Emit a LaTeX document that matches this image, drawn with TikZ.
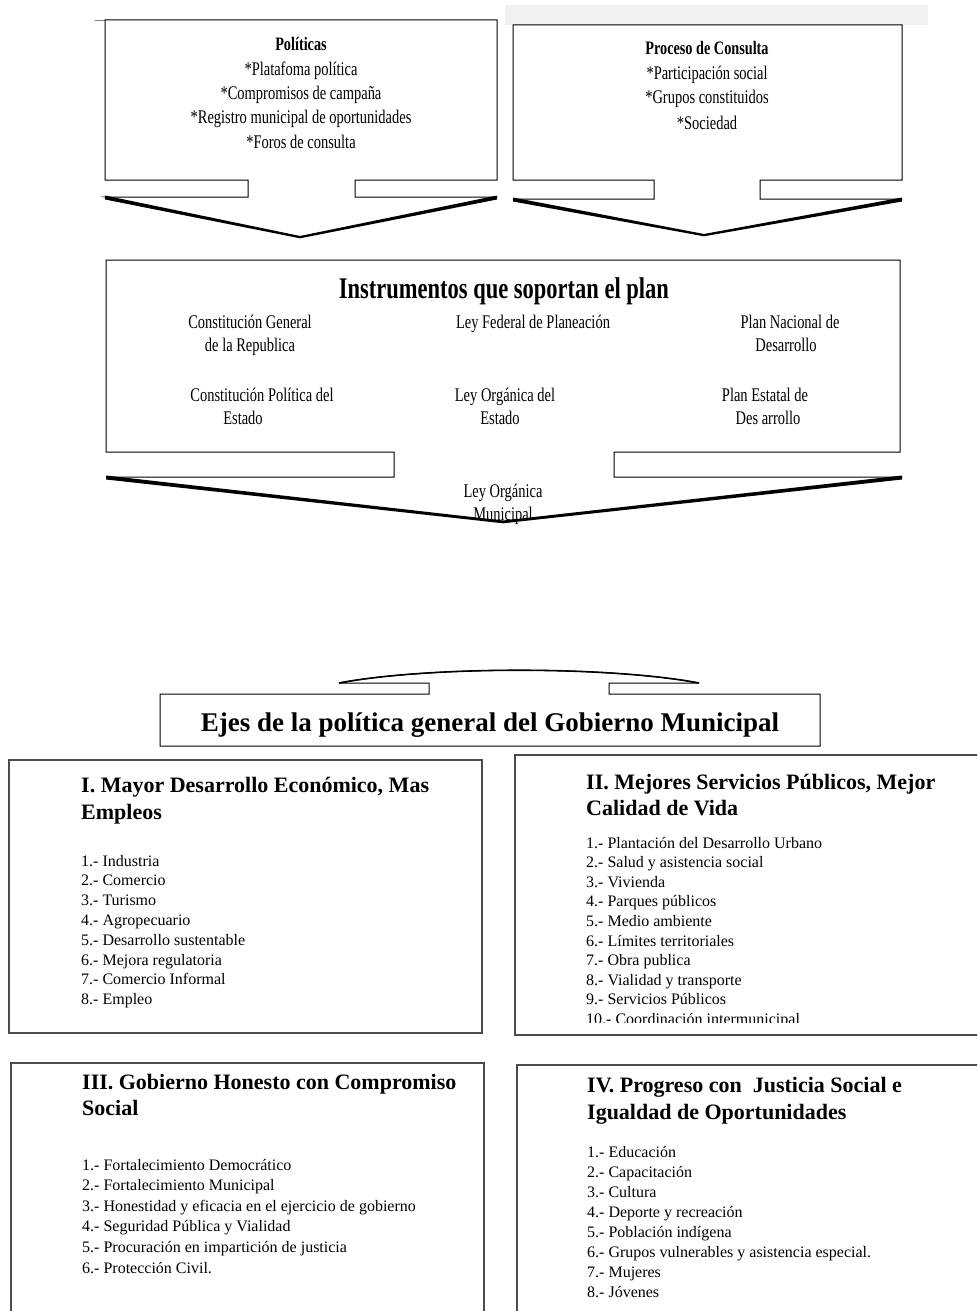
\documentclass[tikz,border=0pt]{standalone}
\usepackage{fontspec}
\setmainfont{Liberation Serif}
\newfontfamily\condfont[FakeStretch=0.85]{Liberation Serif}
\newfontfamily\narrowfont[FakeStretch=0.75]{Liberation Serif}
\tikzset{
  topt/.style={font=\narrowfont\fontsize{19.3}{22}\selectfont, inner sep=0pt, anchor=base},
  topb/.style={font=\narrowfont\bfseries\fontsize{19}{22}\selectfont, inner sep=0pt, anchor=base},
  midtitle/.style={font=\narrowfont\bfseries\fontsize{30}{33}\selectfont, inner sep=0pt, anchor=base},
  ejestitle/.style={font=\bfseries\fontsize{27}{30}\selectfont, inner sep=0pt, anchor=base},
  axtitle/.style={font=\bfseries\fontsize{22}{27}\selectfont, inner sep=0pt, anchor=base west},
  axitem/.style={font=\fontsize{16}{20}\selectfont, inner sep=0pt, anchor=base west},
  boxline/.style={draw=black, line width=1pt, line join=miter},
  wedge/.style={fill=black},
  axbox/.style={draw=black!70, line width=1.3pt},
}
\begin{document}
\begin{tikzpicture}[x=1pt,y=-1pt]
\useasboundingbox (0,0) rectangle (977,1311);
\clip (0,0) rectangle (977,1311);
\fill[white] (0,0) rectangle (977,1311);

% grey strip top right
\fill[black!6] (505,5) rectangle (928,25);
\draw[black!50, line width=0.8pt] (95,20) -- (105,20);

% ---------- top left callout ----------
\draw[boxline] (105,20) -- (497,20) -- (497,180) -- (355,180) -- (355,197) -- (497,197)
  -- (300,237) -- (105,197) -- (248,197) -- (248,180) -- (105,180) -- cycle;
\fill[wedge] (105,195.5) -- (300,236) -- (497,195.5) -- (497,199.5) -- (300,238.3) -- (105,199.5) -- cycle;
\node[topb] (pol) at (301,51) {Políticas};
\node[topt] (pol1) at (301,76) {*Platafoma política};
\node[topt] (pol2) at (301,100) {*Compromisos de campaña};
\node[topt] (pol3) at (301,124) {*Registro municipal de oportunidades};
\node[topt] (pol4) at (301,148) {*Foros de consulta};

% ---------- top right callout ----------
\draw[boxline] (513,25) -- (902,25) -- (902,180) -- (760,180) -- (760,199) -- (902,199)
  -- (704,235) -- (513,199) -- (654,199) -- (654,180) -- (513,180) -- cycle;
\fill[wedge] (513,197.5) -- (704,234) -- (902,197.5) -- (902,201.5) -- (704,236.3) -- (513,201.5) -- cycle;
\node[topb] (pc) at (707,55) {Proceso de Consulta};
\node[topt] (pc1) at (707,80) {*Participación social};
\node[topt] (pc2) at (707,104) {*Grupos constituidos};
\node[topt] (pc3) at (707,129) {*Sociedad};

% ---------- middle callout ----------
\draw[boxline] (106,260) -- (900,260) -- (900,452) -- (614,452) -- (614,477) -- (902,477)
  -- (503,522) -- (106,477) -- (394,477) -- (394,452) -- (106,452) -- cycle;
\node[midtitle] (ins) at (504,298) {Instrumentos que soportan el plan};
\node[topt] (c1a) at (250,328) {Constitución General};
\node[topt] (c1b) at (250,351) {de la Republica};
\node[topt] (c2) at (533,328) {Ley Federal de Planeación};
\node[topt] (c3a) at (790,328) {Plan Nacional de};
\node[topt] (c3b) at (786,351) {Desarrollo};
\node[topt] (c4a) at (262,401) {Constitución Política del};
\node[topt] (c4b) at (243,424) {Estado};
\node[topt] (c5a) at (505,401) {Ley Orgánica del};
\node[topt] (c5b) at (500,424) {Estado};
\node[topt] (c6a) at (765,401) {Plan Estatal de};
\node[topt] (c6b) at (768,424) {Des arrollo};
\node[topt] (lm1) at (503,497) {Ley Orgánica};
\node[topt] (lm2) at (503,520) {Municipal};
\fill[wedge] (106,475.5) -- (503,520.5) -- (902,475.5) -- (902,479.5) -- (503,523.3) -- (106,479.5) -- cycle;

% ---------- Ejes box with up arrow ----------
\draw[boxline] (160,746) -- (160,694) -- (429,694) -- (429,683) -- (339,683)
  .. controls (429,666) and (609,666) .. (699,683) -- (609,683) -- (609,694)
  -- (820,694) -- (820,746) -- cycle;
\draw[line width=1.6pt] (339,683) .. controls (429,666) and (609,666) .. (699,683);
\node[ejestitle] (ejes) at (490,731) {Ejes de la política general del Gobierno Municipal};

% ---------- Box I ----------
\draw[axbox] (9,760) rectangle (482,1033);
\node[axtitle] (t1a) at (81,792) {I. Mayor Desarrollo Económico, Mas};
\node[axtitle] (t1b) at (81,819) {Empleos};
\foreach \t [count=\i] in {Industria, Comercio, Turismo, Agropecuario, Desarrollo sustentable,
  Mejora regulatoria, Comercio Informal, Empleo}
  \node[axitem] (a\i) at (81,{866+19.8*(\i-1)}) {\i.- \t};

% ---------- Box II ----------
\begin{scope}
\clip (515,755) rectangle (977,1022);
\foreach \t [count=\i] in {Plantación del Desarrollo Urbano, Salud y asistencia  social, Vivienda,
  Parques públicos, Medio ambiente, Límites territoriales, Obra publica,
  Vialidad y transporte, Servicios Públicos, Coordinación intermunicipal}
  \node[axitem] (b\i) at (586,{848+19.6*(\i-1)}) {\i.- \t};
\end{scope}
\draw[axbox] (990,755) -- (515,755) -- (515,1035) -- (990,1035);
\node[axtitle] (t2a) at (586,789) {II. Mejores Servicios Públicos, Mejor};
\node[axtitle] (t2b) at (586,815) {Calidad de Vida};

% ---------- Box III ----------
\draw[axbox] (11,1320) -- (11,1063) -- (484,1063) -- (484,1320);
\node[axtitle] (t3a) at (82,1089) {III. Gobierno Honesto con Compromiso};
\node[axtitle] (t3b) at (82,1115) {Social};
\foreach \t [count=\i] in {Fortalecimiento Democrático, Fortalecimiento Municipal,
  Honestidad y eficacia en el ejercicio de gobierno, Seguridad Pública y Vialidad,
  Procuración en impartición de justicia, Protección Civil.}
  \node[axitem] (c\i) at (82,{1170+20.6*(\i-1)}) {\i.- \t};

% ---------- Box IV ----------
\draw[axbox] (517,1320) -- (517,1065) -- (990,1065);
\node[axtitle] (t4a) at (587,1092) {IV. Progreso con \ Justicia Social e};
\node[axtitle] (t4b) at (587,1119) {Igualdad de Oportunidades};
\foreach \t [count=\i] in {Educación, Capacitación, Cultura, Deporte y recreación,
  Población indígena, Grupos vulnerables y asistencia especial., Mujeres, Jóvenes}
  \node[axitem] (d\i) at (587,{1157+20*(\i-1)}) {\i.- \t};
\end{tikzpicture}
\end{document}
